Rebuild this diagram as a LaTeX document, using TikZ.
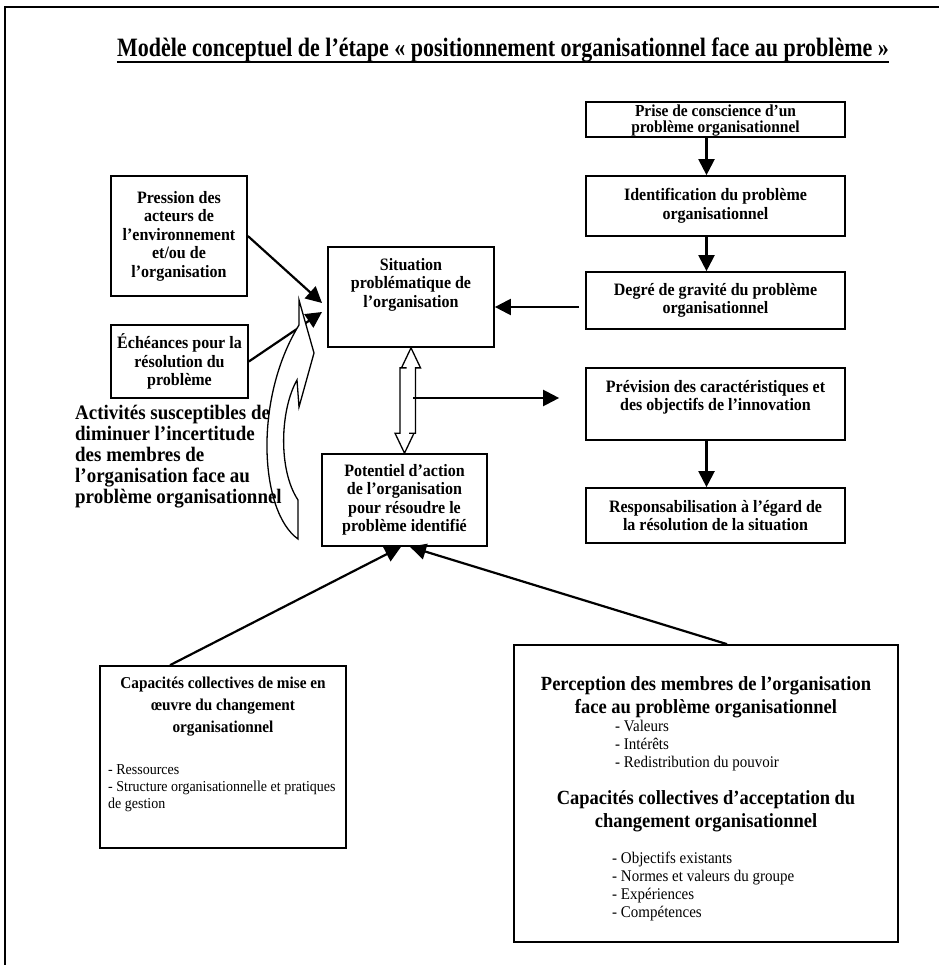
\documentclass[tikz,border=0pt]{standalone}
\usepackage{fontspec}
\setmainfont{Liberation Serif}[FakeStretch=0.92]
\newfontfamily\titlefont{Liberation Serif}[FakeStretch=0.83]
\usetikzlibrary{arrows.meta,calc}

\begin{document}
\begin{tikzpicture}[x=1pt,y=-1pt,
  box/.style={draw, line width=1.7pt, inner sep=0pt, align=center,
    font=\fontsize{17.4}{18.5}\selectfont\bfseries},
  boxtext/.style={inner sep=0pt, align=center,
    font=\fontsize{17.4}{18.5}\selectfont\bfseries},
  bigtext/.style={inner sep=0pt, align=center,
    font=\fontsize{20.1}{23}\selectfont\bfseries},
  listtext/.style={inner sep=0pt, align=left, anchor=north west,
    font=\fontsize{16.3}{18}\selectfont},
  arr/.style={line width=2.2pt, -{Triangle[length=16pt,width=16pt]}},
  hollow/.style={draw, fill=white, line width=1.3pt, line join=miter}
]
\useasboundingbox (0,0) rectangle (939,965);
\fill[white] (0,0) rectangle (939,965);

% outer frame
\draw[line width=1.8pt] (5,965) -- (5,7) -- (939,7);

% title
\node[anchor=base, inner sep=0pt, font=\fontsize{26.5}{30}\titlefont\bfseries] (title) at (503,57)
  {Modèle conceptuel de l’étape « positionnement organisationnel face au problème »};
\draw[line width=1.5pt] ([yshift=-5pt]title.base west) -- ([yshift=-5pt]title.base east);

% right-hand chain
\node[box, minimum width=259pt, minimum height=35pt] (prise) at (715.5,119.5) {};
\node[boxtext, anchor=north, font=\fontsize{16.8}{16}\selectfont\bfseries] at ([yshift=-3pt]prise.north)
  {Prise de conscience d’un\\problème organisationnel};
\node[box, minimum width=259pt, minimum height=60pt] (ident) at (715.5,206)
  {Identification du problème\\organisationnel};
\node[box, minimum width=259pt, minimum height=57pt] (deg) at (715.5,300.5)
  {Degré de gravité du problème\\organisationnel};
\node[box, minimum width=259pt, minimum height=72pt] (prev) at (715.5,404) {};
\node[boxtext, anchor=north] at ([yshift=-13pt]prev.north)
  {Prévision des caractéristiques et\\des objectifs de l’innovation};
\node[box, minimum width=259pt, minimum height=55pt] (resp) at (715.5,515.5)
  {Responsabilisation à l’égard de\\la résolution de la situation};

\draw[arr] ([xshift=-9pt]prise.south) -- ([xshift=-9pt]ident.north);
\draw[arr] ([xshift=-9pt]ident.south) -- ([xshift=-9pt]deg.north);
\draw[arr] ([xshift=-9pt]prev.south) -- ([xshift=-9pt]resp.north);

% central boxes
\node[box, minimum width=166pt, minimum height=100pt] (sit) at (411,297) {};
\node[boxtext, anchor=north] at ([yshift=-12pt]sit.north)
  {Situation\\problématique de\\l’organisation};
\node[box, minimum width=165pt, minimum height=92pt] (pot) at (404.5,500)
  {Potentiel d’action\\de l’organisation\\pour résoudre le\\problème identifié};

\draw[arr] ([xshift=-6pt,yshift=-6.5pt]deg.west) -- ([yshift=-6.5pt]deg.west -| sit.east);

% hollow double arrow between the two central boxes
\path[hollow] (sit.south) -- ++(9.5,20) -- ++(-5,0) |- ($(pot.north)+(4.5,-20)$)
  -- ++(5,0) -- (pot.north) -- ++(-9.5,-20) -- ++(5,0) |- ($(sit.south)+(-4.5,20)$)
  -- ++(-5,0) -- cycle;
\coordinate (jn) at (413,398);
\draw[arr, shorten >=26pt] (jn) -- (jn -| prev.west);

% left-hand boxes
\node[box, minimum width=136pt, minimum height=120pt] (pres) at (179,236)
  {Pression des\\acteurs de\\l’environnement\\et/ou de\\l’organisation};
\node[box, minimum width=137pt, minimum height=73pt] (ech) at (179.5,361.5)
  {Échéances pour la\\résolution du\\problème};
\coordinate (inA) at (322,303);
\coordinate (inB) at (322,312);
\draw[arr] (pres.east) -- (inA);
\draw[arr] (ech.east) -- (inB);

% curved block arrow
\path[hollow] (299,300) -- (314,353) -- (299,407) -- (297,380)
  .. controls (280,410) and (278,470) .. (298,500) -- (298,539)
  .. controls (260,512) and (253,400) .. (299,325) -- cycle;
\node[inner sep=0pt, align=left, anchor=north west, font=\fontsize{20.6}{21}\selectfont\bfseries] (act) at (75,405)
  {Activités susceptibles de\\diminuer l’incertitude\\des membres de\\l’organisation face au\\problème organisationnel};

% bottom boxes
\node[box, minimum width=246pt, minimum height=182pt] (cap) at (223,757) {};
\node[inner sep=0pt, align=center, anchor=north, font=\fontsize{16.6}{22}\selectfont\bfseries] at ([yshift=-12pt]cap.north)
  {Capacités collectives de mise en\\œuvre du changement\\organisationnel};
\node[listtext, font=\fontsize{15.2}{17}\selectfont] at (108,764)
  {- Ressources\\- Structure organisationnelle et pratiques\\de gestion};

\node[box, minimum width=384pt, minimum height=297pt] (perc) at (706,793.5) {};
\node[bigtext, anchor=north] at (706,676)
  {Perception des membres de l’organisation\\face au problème organisationnel};
\node[listtext] at (615,720)
  {- Valeurs\\- Intérêts\\- Redistribution du pouvoir};
\node[bigtext, anchor=north] at (706,790)
  {Capacités collectives d’acceptation du\\changement organisationnel};
\node[listtext] at (612,852)
  {- Objectifs existants\\- Normes et valeurs du groupe\\- Expériences\\- Compétences};

\draw[arr] ([xshift=-53pt]cap.north) -- ([xshift=-3.5pt]pot.south);
\draw[arr] ([xshift=21pt]perc.north) -- ([xshift=5.5pt]pot.south);
\end{tikzpicture}
\end{document}
